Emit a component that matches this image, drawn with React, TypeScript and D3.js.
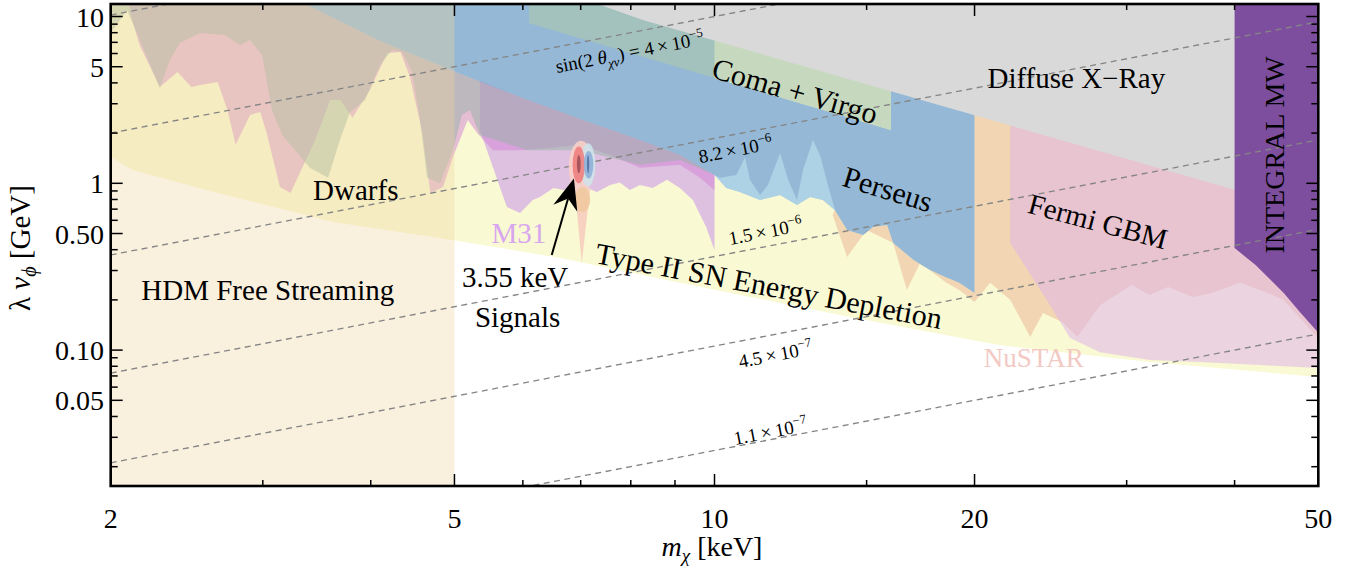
import React from 'react';
import * as d3 from 'd3';

type P = [number, number];

const X_DOMAIN: [number, number] = [2, 50];
const Y_DOMAIN: [number, number] = [0.015321, 11.885];
const TOP = 14;

const xMajor = [2, 5, 10, 20, 50];
const xMinor = [3, 4, 6, 7, 8, 9, 15, 30, 40];
const yMajor = [0.05, 0.1, 0.5, 1, 5, 10];
const yMajorLabels = ['0.05', '0.10', '0.50', '1', '5', '10'];
const yMinor = [0.02, 0.03, 0.04, 0.06, 0.07, 0.08, 0.09, 0.2, 0.3, 0.4, 0.6, 0.7, 0.8, 0.9, 2, 3, 4, 6, 7, 8, 9];

// HDM free streaming mass range (keV)
const hdmRange: [number, number] = [2, 5];

// Type II SN energy depletion lower edge
const typeII: P[] = [[2, TOP], [2, 1.44], [2.12, 1.2], [2.66, 0.875], [3.62, 0.586], [4.72, 0.477], [5.05, 0.451], [6.63, 0.357], [9.12, 0.253], [14.35, 0.158], [21.4, 0.107], [31.9, 0.085], [50, 0.069], [50, TOP]];

// Perseus lower edge at low mass (shared upper edge of the regions beneath it)
const perseusLowEdge: P[] = [[10, 1.12], [9.12, 1.48], [8.2, 1.82], [7.04, 2.4], [5.955, 3.29], [5.05, 4.59], [4.1, 7.13], [3.15, TOP]];

// M31
const m31Lower: P[] = [[5.35, 4.1], [5.35, 2.09], [5.54, 1.25], [5.75, 0.721], [5.955, 0.664], [6.16, 0.794], [6.28, 0.828], [6.51, 0.938], [6.69, 0.912], [7.12, 0.938], [7.31, 0.887], [7.57, 0.977], [7.77, 1.01], [7.98, 0.912], [8.2, 0.977], [8.48, 0.938], [8.81, 1.05], [9.12, 0.938], [9.44, 0.794], [9.78, 0.547], [10, 0.398]];

// Dwarfs
const dwarfsLower: P[] = [[2.09, TOP], [2.11, 10.2], [2.16, 6.75], [2.28, 3.78], [2.39, 4.65], [2.48, 3.78], [2.54, 3.88], [2.66, 4.05], [2.73, 2.75], [2.79, 1.7], [2.9, 2.57], [2.98, 2.68], [3.03, 2.01], [3.14, 0.95], [3.23, 0.875], [3.31, 1.15], [3.45, 1.82], [3.59, 3.16], [3.69, 3.16], [3.81, 2.47], [3.99, 3.63], [4.18, 6.05], [4.33, 6.13], [4.44, 4.34], [4.59, 2.01], [4.69, 0.875], [4.85, 0.95], [4.98, 1.44], [5.18, 2.4], [5.31, 2.01], [5.54, 1.58], [5.96, 1.58], [6.45, 1.63], [6.99, 1.7], [7.57, 1.48], [8.2, 1.24], [9.12, 1.29], [9.62, 1.08], [10, 0.91]];

// grey-green constraint at low mass
const greenLower: P[] = [[2, TOP], [2, 7.96], [2.05, 9.53], [2.089, 10.94], [2.162, 7.23], [2.28, 3.73], [2.342, 5.49], [2.405, 6.94], [2.537, 7.96], [2.71, 7.75], [2.823, 6.75], [2.899, 7.23], [2.994, 5.88], [3.074, 2.75], [3.158, 1.95], [3.27, 1.58], [3.4, 1.24], [3.57, 1.08], [3.685, 1.82], [3.785, 2.68], [3.94, 3.16], [4.1, 5.12], [4.233, 6.3], [4.348, 6.13], [4.466, 4.65], [4.562, 2.4], [4.648, 1.08], [4.811, 1.0], [4.98, 1.58], [5.1, 2.57], [5.21, 2.75], [5.35, 1.95], [6.08, 1.58], [6.99, 1.58], [8.2, 1.29], [9.12, 1.38], [10, 1.12]];

// Coma + Virgo band
const comaVirgo: P[] = [[6.1, TOP], [6.1, 9.1], [16, 2.09], [16, TOP]];

// Perseus
const perseus: P[] = [[3.15, TOP], [10, TOP], [10, 4.28], [16, 2.09], [16, TOP], [20, TOP], [20, 0.22], [19.2, 0.253], [18.5, 0.274], [17.76, 0.302], [17.0, 0.347], [16.1, 0.439], [15.84, 0.562], [15.26, 0.547], [14.86, 0.49], [14.24, 0.525], [13.78, 0.692], [13.35, 0.794], [12.9, 0.828], [12.46, 0.741], [11.91, 0.851], [11.29, 0.794], [10.7, 0.887], [10.32, 0.938], [10, 1.12], [9.12, 1.48], [8.2, 1.82], [7.04, 2.4], [5.955, 3.29], [5.05, 4.59], [4.1, 7.13]];
const perseusFlames: P[] = [[10, 1.12], [10.15, 1.08], [10.6, 1.12], [10.85, 1.44], [10.99, 1.05], [11.29, 0.851], [11.53, 0.977], [11.91, 1.52], [12.17, 1.05], [12.46, 0.794], [12.66, 1.2], [13.0, 1.82], [13.25, 1.48], [13.53, 0.977], [13.78, 0.7], [13.78, 0.692], [13.35, 0.794], [12.9, 0.828], [12.46, 0.741], [11.91, 0.851], [11.29, 0.794], [10.7, 0.887], [10.32, 0.938], [10, 1.12]];

// NuSTAR
const nustar: P[] = [[13.78, 0.692], [14.24, 0.525], [14.86, 0.49], [15.26, 0.547], [15.84, 0.562], [16.1, 0.439], [17.0, 0.347], [17.76, 0.302], [18.5, 0.274], [19.2, 0.253], [20, 0.22], [20, TOP], [50, TOP], [50, 0.118], [47.6, 0.156], [45.6, 0.2], [43.7, 0.22], [40.6, 0.253], [37.6, 0.22], [35.8, 0.208], [33.5, 0.239], [31.9, 0.214], [30.4, 0.246], [27.95, 0.186], [26.3, 0.12], [25.3, 0.147], [24.0, 0.167], [23.2, 0.12], [22, 0.2], [20.85, 0.253], [20, 0.194], [19.2, 0.229], [18.5, 0.256], [17.3, 0.333], [16.7, 0.229], [16.1, 0.439], [15.0, 0.525], [14.24, 0.362], [13.7, 0.646]];

// Fermi GBM
const fermi: P[] = [[22, TOP], [50, TOP], [50, 0.078], [42.8, 0.0814], [36.5, 0.0849], [31.9, 0.0872], [27.95, 0.097], [25.8, 0.118], [24.46, 0.186], [22, 0.439]];

// Diffuse X-ray
const diffuse: P[] = [[6.7, TOP], [8.26, 9.53], [22, 2.22], [40, 0.914], [50, 0.657], [50, TOP]];

// INTEGRAL MW
const integral: P[] = [[40, TOP], [50, TOP], [50, 0.127], [47.6, 0.169], [45.6, 0.22], [42.3, 0.324], [40, 0.409]];

// sin(2θ) contours: endpoints at m = 2 and m = 50
const mixingLines: P[][] = [
  [[2, 10.2], [50, 255]],
  [[2, 2.0], [50, 50]],
  [[2, 0.372], [50, 9.3]],
  [[2, 0.0728], [50, 1.82]],
  [[2, 0.0211], [50, 0.53]],
  [[2, 0.00501], [50, 0.125]],
];

// 3.55 keV signal regions: [mLo, mHi, vLo, vHi]
const signalSpike: P[] = [[6.89, 0.938], [7.18, 0.938], [7.02, 0.333]];
const signalEllipses: { r: [number, number, number, number]; fill: string }[] = [
  { r: [6.78, 7.24, 0.87, 1.8], fill: '#f8cfc8' },
  { r: [6.89, 7.18, 0.672, 0.95], fill: '#efc9a0' },
  { r: [7.0, 7.28, 0.96, 1.74], fill: '#cfe3ea' },
  { r: [6.85, 7.08, 1.0, 1.66], fill: '#ee8080' },
  { r: [6.93, 7.0, 1.15, 1.48], fill: '#a05058' },
  { r: [7.06, 7.24, 1.07, 1.56], fill: '#8fb0d8' },
  { r: [7.12, 7.16, 1.15, 1.48], fill: '#4f6f9f' },
];
const arrowTail: P = [6.48, 0.372];
const arrowTip: P = [6.875, 1.07];

const FONT = "'Liberation Serif', 'Times New Roman', Times, serif";

export default function App() {
  const x = d3.scaleLog().domain(X_DOMAIN).range([110.7, 1318.3]);
  const y = d3.scaleLog().domain(Y_DOMAIN).range([486, 4]);
  const line = d3.line<P>().x((d) => x(d[0])).y((d) => y(d[1]));
  const poly = (pts: P[]) => (line(pts) || '') + 'Z';
  const L = x(2), R = x(50), T = y(Y_DOMAIN[1]), B = y(Y_DOMAIN[0]);

  const at = (p: P) => [x(p[0]), y(p[1])];

  const m31 = m31Lower.concat(perseusLowEdge.slice(0, 5));
  const dwarfs = dwarfsLower.concat(perseusLowEdge);
  const green = greenLower.concat(perseusLowEdge);

  // arrow geometry
  const [tx0, ty0] = at(arrowTail);
  const [tx1, ty1] = at(arrowTip);
  const len = Math.hypot(tx1 - tx0, ty1 - ty0);
  const ux = (tx1 - tx0) / len, uy = (ty1 - ty0) / len;
  const px = -uy, py = ux;
  const hl = 31, hw = 12.5, notch = 21;
  const bx = tx1 - ux * hl, by = ty1 - uy * hl;
  const nx = tx1 - ux * notch, ny = ty1 - uy * notch;
  const head = `M${tx1},${ty1}L${bx + px * hw},${by + py * hw}L${nx},${ny}L${bx - px * hw},${by - py * hw}Z`;

  const label = (p: P, rot: number, content: React.ReactNode, opts: any = {}) => {
    const [lx, ly] = at(p);
    return (
      <text transform={`translate(${lx},${ly}) rotate(${rot})`} fontFamily={FONT} fontSize={opts.size || 29} fill={opts.fill || '#000'} textAnchor={opts.anchor || 'start'}>
        {content}
      </text>
    );
  };

  const lineLabel = (p: P, mant: string, exp: string) =>
    label(p, -11, (<><tspan>{mant}</tspan><tspan dy={-8} fontSize={13}>{exp}</tspan></>), { size: 19 });

  return (
    <svg width={1359} height={580} style={{ position: 'absolute', left: 0, top: 0, background: '#fff' }}>
      <defs>
        <clipPath id="plotClip">
          <rect x={L} y={T} width={R - L} height={B - T} />
        </clipPath>
      </defs>
      <rect x={0} y={0} width={1359} height={580} fill="#fff" />
      <g clipPath="url(#plotClip)">
        <path d={poly(typeII)} fill="rgb(240,240,150)" fillOpacity={0.42} />
        <path d={poly(m31)} fill="rgb(195,135,237)" fillOpacity={0.5} />
        <path d={poly(dwarfs)} fill="rgb(209,129,213)" fillOpacity={0.5} />
        <path d={poly(green)} fill="rgb(150,180,165)" fillOpacity={0.5} />
        <path d={poly(nustar)} fill="rgb(240,200,165)" fillOpacity={0.7} />
        <path d={poly(fermi)} fill="rgb(221,175,237)" fillOpacity={0.5} />
        <path d={poly(perseus)} fill="rgb(80,140,215)" fillOpacity={0.6} />
        <path d={poly(perseusFlames)} fill="rgb(200,235,245)" fillOpacity={0.5} />
        <path d={poly(comaVirgo)} fill="rgb(170,200,178)" fillOpacity={0.65} />
        <path d={poly(diffuse)} fill="#d9d9d9" />
        <path d={poly(integral)} fill="#7e4e9e" />
        <rect x={x(hdmRange[0])} y={T} width={x(hdmRange[1]) - x(hdmRange[0])} height={B - T} fill="rgb(241,212,161)" fillOpacity={0.35} />
        {mixingLines.map((ln, i) => (
          <path key={i} d={line(ln) || ''} stroke="#858585" strokeWidth={1.35} strokeDasharray="6,4.5" fill="none" />
        ))}
        <path d={poly(signalSpike)} fill="#f8d2c0" />
        {signalEllipses.map((e, i) => {
          const cx = (x(e.r[0]) + x(e.r[1])) / 2;
          const cy = (y(e.r[2]) + y(e.r[3])) / 2;
          const rx = (x(e.r[1]) - x(e.r[0])) / 2;
          const ry = (y(e.r[2]) - y(e.r[3])) / 2;
          return <ellipse key={i} cx={cx} cy={cy} rx={rx} ry={ry} fill={e.fill} fillOpacity={0.9} />;
        })}
      </g>

      {/* arrow */}
      <line x1={tx0} y1={ty0} x2={nx} y2={ny} stroke="#000" strokeWidth={2} />
      <path d={head} fill="#000" />

      {/* region labels */}
      {label([2.17, 0.2], 0, 'HDM Free Streaming')}
      {label([3.43, 0.794], 0, 'Dwarfs')}
      {label([5.52, 0.439], 0, 'M31', { fill: '#d8a6ee' })}
      {label([5.1, 0.239], 0, '3.55 keV')}
      {label([5.28, 0.137], 0, 'Signals')}
      {label([11.5, 0.211], 10.8, 'Type II SN Energy Depletion', { anchor: 'middle', size: 30 })}
      {label([15.75, 0.805], 17, 'Perseus', { anchor: 'middle', size: 30 })}
      {label([12.3, 3.12], 16, 'Coma + Virgo', { anchor: 'middle', size: 30 })}
      {label([27.6, 0.518], 15, 'Fermi GBM', { anchor: 'middle' })}
      {label([20.7, 3.73], 0, 'Diffuse X\u2212Ray')}
      {label([45.6, 1.48], -90, 'INTEGRAL MW', { anchor: 'middle', size: 28 })}
      {label([20.5, 0.079], 0, 'NuSTAR', { fill: '#f2c9c3', size: 27 })}

      {/* mixing-angle labels */}
      {label([6.57, 4.59], -11, (
        <>
          <tspan>sin(2 </tspan>
          <tspan fontStyle="italic">θ</tspan>
          <tspan fontStyle="italic" fontSize={13} dy={5}>χν</tspan>
          <tspan dy={-5}>) = 4{'\u2009'}×{'\u2009'}10</tspan>
          <tspan dy={-8} fontSize={13}>−5</tspan>
        </>
      ), { size: 19 })}
      {lineLabel([9.62, 1.32], '8.2\u2009×\u200910', '−6')}
      {lineLabel([10.42, 0.427], '1.5\u2009×\u200910', '−6')}
      {lineLabel([10.7, 0.078], '4.5\u2009×\u200910', '−7')}
      {lineLabel([10.56, 0.027], '1.1\u2009×\u200910', '−7')}

      {/* frame */}
      <rect x={L} y={T} width={R - L} height={B - T} fill="none" stroke="#000" strokeWidth={2.6} />

      {/* ticks */}
      {xMajor.concat(xMinor).map((v, i) => {
        const len2 = xMajor.includes(v) ? 12 : 6;
        return (
          <g key={'xt' + i} stroke="#000" strokeWidth={1.5}>
            <line x1={x(v)} x2={x(v)} y1={B} y2={B - len2} />
            <line x1={x(v)} x2={x(v)} y1={T} y2={T + len2} />
          </g>
        );
      })}
      {yMajor.concat(yMinor).map((v, i) => {
        const len2 = yMajor.includes(v) ? 12 : 7;
        return (
          <g key={'yt' + i} stroke="#000" strokeWidth={1.5}>
            <line x1={L} x2={L + len2} y1={y(v)} y2={y(v)} />
            <line x1={R} x2={R - len2} y1={y(v)} y2={y(v)} />
          </g>
        );
      })}
      {xMajor.map((v, i) => (
        <text key={'xl' + i} x={x(v)} y={528} textAnchor="middle" fontFamily={FONT} fontSize={28}>{v}</text>
      ))}
      {yMajor.map((v, i) => (
        <text key={'yl' + i} x={104} y={y(v) + 10} textAnchor="end" fontFamily={FONT} fontSize={28}>{yMajorLabels[i]}</text>
      ))}

      {/* axis titles */}
      <text x={712} y={556} textAnchor="middle" fontFamily={FONT} fontSize={28}>
        <tspan fontStyle="italic">m</tspan>
        <tspan fontStyle="italic" fontSize={19} dy={6}>χ</tspan>
        <tspan dy={-6}> [keV]</tspan>
      </text>
      <text transform="translate(30,248) rotate(-90)" textAnchor="middle" fontFamily={FONT} fontSize={29}>
        <tspan>λ </tspan>
        <tspan fontStyle="italic">v</tspan>
        <tspan fontStyle="italic" fontSize={20} dy={6}>ϕ</tspan>
        <tspan dy={-6}> [GeV]</tspan>
      </text>
    </svg>
  );
}
